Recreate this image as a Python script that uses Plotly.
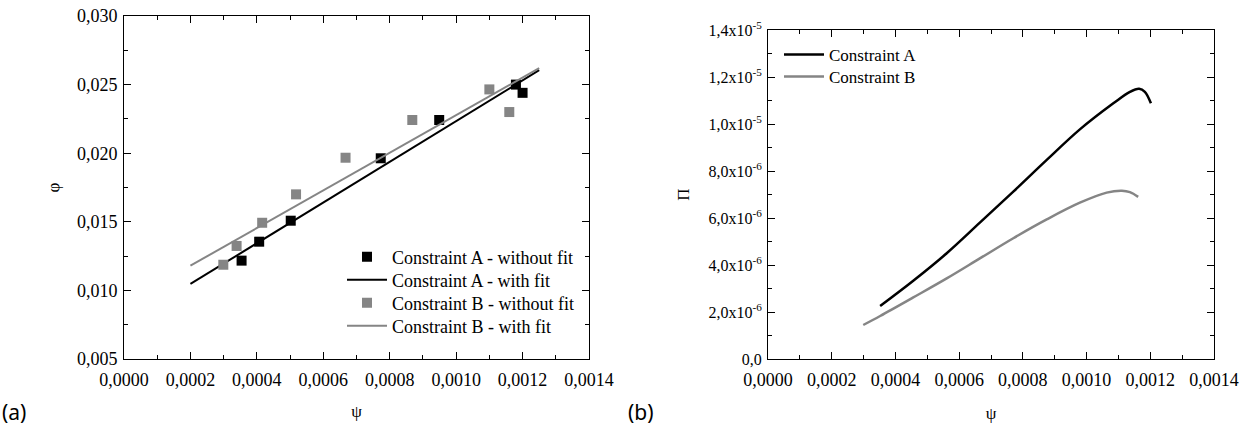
import plotly.graph_objects as go

# ---- Panel (a) data ----
a_x = [0.000354, 0.000407, 0.000502, 0.000773, 0.000949, 0.00118, 0.0012]
a_y = [0.01217, 0.01355, 0.01508, 0.01963, 0.02242, 0.02500, 0.02440]
b_x = [0.000299, 0.000339, 0.000416, 0.000518, 0.000667, 0.000868, 0.00110, 0.00116]
b_y = [0.01187, 0.01324, 0.01493, 0.01700, 0.01967, 0.02242, 0.02465, 0.02300]
fit_x = [0.0002, 0.00125]
fitA_y = [0.01047, 0.02605]
fitB_y = [0.0118, 0.02620]

# ---- Panel (b) data ----
pa_x = [0.000352, 0.000456, 0.000561, 0.000665, 0.000770, 0.000875, 0.000979, 0.001084, 0.001136, 0.001165, 0.001183, 0.001202]
pa_y = [2.255e-6, 3.33e-6, 4.50e-6, 5.80e-6, 7.12e-6, 8.47e-6, 9.77e-6, 1.088e-5, 1.137e-5, 1.150e-5, 1.137e-5, 1.088e-5]
pb_x = [0.000299, 0.000352, 0.000456, 0.000561, 0.000665, 0.000770, 0.000875, 0.000979, 0.001063, 0.001111, 0.001136, 0.001162]
pb_y = [1.447e-6, 1.83e-6, 2.62e-6, 3.43e-6, 4.28e-6, 5.14e-6, 5.94e-6, 6.65e-6, 7.08e-6, 7.16e-6, 7.10e-6, 6.90e-6]

# ---- tick labels ----
x_tickvals = [0, 0.0002, 0.0004, 0.0006, 0.0008, 0.0010, 0.0012, 0.0014]
x_ticktext = ["0,0000", "0,0002", "0,0004", "0,0006", "0,0008", "0,0010", "0,0012", "0,0014"]
ya_tickvals = [0.005, 0.010, 0.015, 0.020, 0.025, 0.030]
ya_ticktext = ["0,005", "0,010", "0,015", "0,020", "0,025", "0,030"]
yb_tickvals = [0, 2e-6, 4e-6, 6e-6, 8e-6, 1.0e-5, 1.2e-5, 1.4e-5]
yb_ticktext = ["0,0", "2,0x10<sup>-6</sup>", "4,0x10<sup>-6</sup>", "6,0x10<sup>-6</sup>",
               "8,0x10<sup>-6</sup>", "1,0x10<sup>-5</sup>", "1,2x10<sup>-5</sup>", "1,4x10<sup>-5</sup>"]

W, H = 1242, 428
SERIF = "Liberation Serif, Times New Roman, serif"
GRAY = "#858585"

fig = go.Figure()
fig.add_trace(go.Scatter(x=a_x, y=a_y, mode="markers", name="Constraint A - without fit",
                         marker=dict(symbol="square", size=10, color="black"),
                         xaxis="x", yaxis="y", legend="legend"))
fig.add_trace(go.Scatter(x=fit_x, y=fitA_y, mode="lines", name="Constraint A - with fit",
                         line=dict(color="black", width=2), xaxis="x", yaxis="y", legend="legend2"))
fig.add_trace(go.Scatter(x=b_x, y=b_y, mode="markers", name="Constraint B - without fit",
                         marker=dict(symbol="square", size=10, color=GRAY),
                         xaxis="x", yaxis="y", legend="legend3"))
fig.add_trace(go.Scatter(x=fit_x, y=fitB_y, mode="lines", name="Constraint B - with fit",
                         line=dict(color=GRAY, width=2), xaxis="x", yaxis="y", legend="legend4"))

fig.add_trace(go.Scatter(x=pa_x, y=pa_y, mode="lines", name="Constraint A",
                         line=dict(color="black", width=2.5, shape="spline"),
                         xaxis="x2", yaxis="y2", legend="legend5"))
fig.add_trace(go.Scatter(x=pb_x, y=pb_y, mode="lines", name="Constraint B",
                         line=dict(color=GRAY, width=2.5, shape="spline"),
                         xaxis="x2", yaxis="y2", legend="legend6"))


def axis(**kw):
    d = dict(showline=True, linecolor="black", linewidth=1, mirror="ticks",
             ticks="inside", ticklen=7, tickcolor="black", tickwidth=1,
             showgrid=False, zeroline=False, automargin=False,
             tickfont=dict(family=SERIF, size=18, color="black"))
    d.update(kw)
    return d


def leg(x, y, size):
    return dict(x=x / W, y=1 - y / H, xanchor="left", yanchor="middle",
                bgcolor="rgba(0,0,0,0)", borderwidth=0,
                font=dict(family=SERIF, size=size, color="black"),
                tracegroupgap=0, itemwidth=40)


fig.update_layout(
    width=W, height=H,
    margin=dict(l=0, r=0, t=0, b=0, autoexpand=False),
    paper_bgcolor="white", plot_bgcolor="white",
    font=dict(family=SERIF, size=18, color="black"),
    xaxis=axis(domain=[124 / W, 589 / W], range=[0, 0.0014], anchor="y",
               tickvals=x_tickvals, ticktext=x_ticktext, ticklabelstandoff=4,
               minor=dict(ticks="inside", ticklen=4, tickcolor="black", dtick=0.0001, tick0=0),
               title=dict(text="ψ", standoff=16, font=dict(family=SERIF, size=17, color="black"))),
    yaxis=axis(domain=[1 - 359 / H, 1 - 16 / H], range=[0.005, 0.030], anchor="x",
               tickvals=ya_tickvals, ticktext=ya_ticktext, ticklabelstandoff=2,
               minor=dict(ticks="inside", ticklen=4, tickcolor="black", dtick=0.0025, tick0=0.005),
               title=dict(text="φ", standoff=12, font=dict(family=SERIF, size=17, color="black"))),
    xaxis2=axis(domain=[768 / W, 1214 / W], range=[0, 0.0014], anchor="y2",
                tickvals=x_tickvals, ticktext=x_ticktext, ticklabelstandoff=4,
                minor=dict(ticks="inside", ticklen=4, tickcolor="black", dtick=0.0001, tick0=0),
                title=dict(text="ψ", standoff=18, font=dict(family=SERIF, size=17, color="black"))),
    yaxis2=axis(domain=[1 - 359 / H, 1 - 30 / H], range=[0, 1.4e-5], anchor="x2",
                tickvals=yb_tickvals, ticktext=yb_ticktext, ticklabelstandoff=2,
                tickfont=dict(family=SERIF, size=16, color="black"),
                minor=dict(ticks="inside", ticklen=4, tickcolor="black", dtick=1e-6, tick0=0),
                title=dict(text="Π", standoff=14, font=dict(family=SERIF, size=17, color="black"))),
    legend=leg(342, 257, 18),
    legend2=leg(342, 280, 18),
    legend3=leg(342, 303, 18),
    legend4=leg(342, 326, 18),
    legend5=leg(779, 55, 17),
    legend6=leg(779, 77, 17),
    showlegend=True,
    annotations=[
        dict(text="(a)", x=0 / W, y=1 - 412 / H, xref="paper", yref="paper",
             xanchor="left", yanchor="middle", showarrow=False,
             font=dict(family="Noto Sans", size=21, color="black")),
        dict(text="(b)", x=626 / W, y=1 - 412 / H, xref="paper", yref="paper",
             xanchor="left", yanchor="middle", showarrow=False,
             font=dict(family="Noto Sans", size=21, color="black")),
    ],
)

fig.write_html("out.html")
